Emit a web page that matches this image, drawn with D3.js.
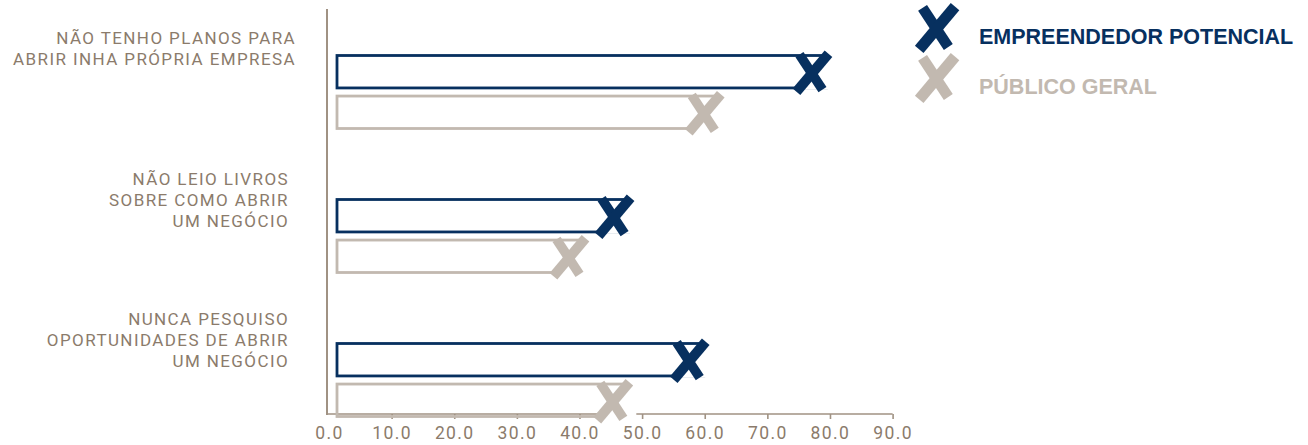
<!DOCTYPE html>
<html>
<head>
<meta charset="utf-8">
<script src="https://cdn.jsdelivr.net/npm/d3@7"></script>
<style>
  html, body { margin: 0; padding: 0; background: #ffffff; }
  svg { display: block; }
  .cat-label { font-family: Roboto, "Noto Sans", sans-serif; font-size: 17px; fill: #8b7b6b; letter-spacing: 1.4px; }
  .tick text { font-family: Roboto, "Noto Sans", sans-serif; font-size: 17.5px; fill: #8b7b6b; letter-spacing: 1.4px; }
  .legend-text { font-family: "Liberation Sans", Arial, sans-serif; font-size: 21.5px; font-weight: 700; }
</style>
</head>
<body>
<svg id="chart" width="1308" height="445"></svg>
<script>
// Categories (each label split into its printed lines)
const categories = [
  ["NÃO TENHO PLANOS PARA", "ABRIR INHA PRÓPRIA EMPRESA"],
  ["NÃO LEIO LIVROS", "SOBRE COMO ABRIR", "UM NEGÓCIO"],
  ["NUNCA PESQUISO", "OPORTUNIDADES DE ABRIR", "UM NEGÓCIO"]
];
const seriesNames = ["EMPREENDEDOR POTENCIAL", "PÚBLICO GERAL"];
// Percentages per category
const empreendedorValues = [79.6, 48.0, 60.0];
const publicoValues = [62.4, 40.8, 47.8];
const tickValues = [0, 10, 20, 30, 40, 50, 60, 70, 80, 90];
const tickLabels = ["0.0", "10.0", "20.0", "30.0", "40.0", "50.0", "60.0", "70.0", "80.0", "90.0"];

const colors = { "EMPREENDEDOR POTENCIAL": "#07305f", "PÚBLICO GERAL": "#c2b9b0" };
const axisColor = "#a09283";

const svg = d3.select("#chart");
const catKeys = categories.map(c => c.join(" "));
const valuesBySeries = [empreendedorValues, publicoValues];

const x = d3.scaleLinear().domain([0, 90]).range([329, 892.6]);
const yGroup = d3.scaleBand().domain(catKeys).range([55.5, 55.5 + 432]).paddingInner(0);
const ySeries = d3.scaleBand().domain(seriesNames).range([0, 73]).paddingInner(0.2);
const axisY = 414;

// Vertical axis line
svg.append("line")
  .attr("x1", x(0) - 2).attr("x2", x(0) - 2)
  .attr("y1", 9).attr("y2", axisY + 1)
  .attr("stroke", axisColor).attr("stroke-width", 2);

// Horizontal axis
const xAxis = d3.axisBottom(x)
  .tickValues(tickValues)
  .tickFormat((d, i) => tickLabels[i])
  .tickSize(5)
  .tickSizeOuter(0)
  .tickPadding(8);
const gx = svg.append("g").attr("transform", `translate(0,${axisY})`).call(xAxis);
gx.select(".domain").attr("stroke", axisColor).attr("stroke-width", 1.6)
  .attr("d", `M${x(0) - 2},0H${x(90)}`);
gx.selectAll(".tick line").attr("stroke", axisColor).attr("stroke-width", 1.6)
  .attr("display", d => d === 0 ? "none" : null);
gx.selectAll(".tick text").attr("fill", "#8b7b6b");

// Brush-stroke style "X" marker; a white backing hides whatever lies right of the "/" stroke
function drawX(g, cx, cy, color, s, backing) {
  const m = g.append("g").attr("transform", `translate(${cx},${cy}) scale(${s})`);
  if (backing) {
    m.append("path")
      .attr("d", "M17,-17 L-15,17 L24,17 L24,-17 Z")
      .attr("fill", "#ffffff");
  }
  m.append("path")
    .attr("d", "M-12,-18 L11,17")
    .attr("stroke", color).attr("stroke-width", 9.5).attr("fill", "none");
  m.append("path")
    .attr("d", "M17,-19 L-15,19")
    .attr("stroke", color).attr("stroke-width", 10).attr("fill", "none");
}

// Bars (outlined) with X markers at their ends
const barStart = x(0) + 8;
categories.forEach((cat, ci) => {
  seriesNames.forEach((s, si) => {
    const v = valuesBySeries[si][ci];
    const yTop = yGroup(catKeys[ci]) + ySeries(s);
    const h = ySeries.bandwidth();
    svg.append("rect")
      .attr("x", barStart).attr("y", yTop)
      .attr("width", x(v) - 1 - barStart).attr("height", h)
      .attr("fill", "none").attr("stroke", colors[s]).attr("stroke-width", 2.8);
  });
});
categories.forEach((cat, ci) => {
  seriesNames.forEach((s, si) => {
    const v = valuesBySeries[si][ci];
    const yMid = yGroup(catKeys[ci]) + ySeries(s) + ySeries.bandwidth() / 2;
    drawX(svg, x(v) - 16, yMid + 1, colors[s], 1, true);
  });
});

// Category labels, centred near the top of each group
const labelNudge = [-3.5, 3.5, 0];
categories.forEach((lines, ci) => {
  const top = yGroup(catKeys[ci]);
  const lh = 21;
  const anchorX = ci === 0 ? 296 : 289;
  const t = svg.append("text").attr("class", "cat-label").attr("text-anchor", "end");
  lines.forEach((ln, li) => {
    t.append("tspan").attr("x", anchorX)
      .attr("y", top + 2.5 + labelNudge[ci] - (lines.length - 1) / 2 * lh + li * lh)
      .text(ln);
  });
});

// Legend
const legend = svg.append("g");
seriesNames.forEach((s, i) => {
  drawX(legend, 936, 28 + i * 50, colors[s], 1.12, false);
  legend.append("text").attr("class", "legend-text")
    .attr("x", 979).attr("y", 44 + i * 49.5)
    .attr("fill", colors[s]).text(s);
});
</script>
</body>
</html>
